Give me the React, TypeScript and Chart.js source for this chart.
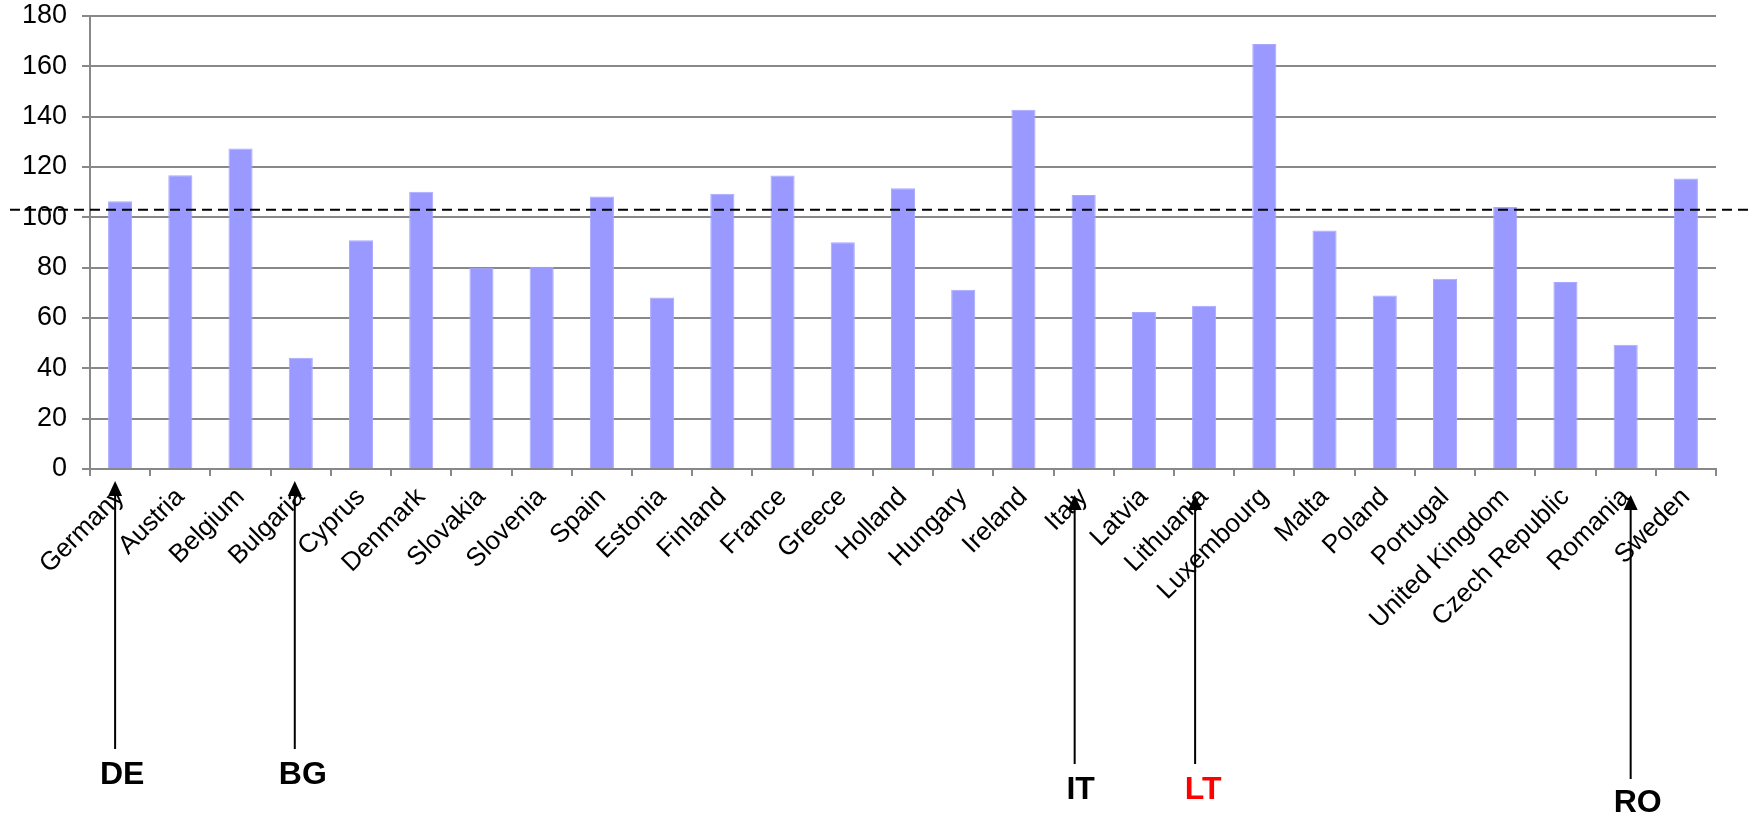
import React, { useEffect, useRef } from "react";
import { Chart, registerables } from "chart.js";

Chart.register(...registerables);

// ---- data ----
const countries = [
  "Germany", "Austria", "Belgium", "Bulgaria", "Cyprus", "Denmark", "Slovakia",
  "Slovenia", "Spain", "Estonia", "Finland", "France", "Greece", "Holland",
  "Hungary", "Ireland", "Italy", "Latvia", "Lithuania", "Luxembourg", "Malta",
  "Poland", "Portugal", "United Kingdom", "Czech Republic", "Romania", "Sweden",
];
const values = [
  106.4, 116.7, 127.4, 44.2, 90.9, 110.2, 80.0, 80.4, 108.3, 68.1, 109.4, 116.6,
  90.1, 111.6, 71.2, 142.7, 108.9, 62.4, 64.9, 168.9, 94.8, 68.9, 75.6, 104.1,
  74.3, 49.4, 115.4,
];
const yTicks = [0, 20, 40, 60, 80, 100, 120, 140, 160, 180];
const referenceValue = 103;
const markerCodes = ["DE", "BG", "IT", "LT", "RO"];
const markerCountries = ["Germany", "Bulgaria", "Italy", "Lithuania", "Romania"];
const markerColors = ["#000000", "#000000", "#000000", "#ff0000", "#000000"];

// ---- layout (pixels, not data) ----
const W = 1754;
const H = 818;
const FONT = "'Liberation Sans', Arial, Helvetica, sans-serif";
const markerLayout: Record<string, { dx: number; tdx: number; tip: number; bottom: number; text: number }> = {
  DE: { dx: -5, tdx: 2, tip: 481, bottom: 749, text: 775 },
  BG: { dx: -6, tdx: 2, tip: 481, bottom: 749, text: 775 },
  IT: { dx: -9, tdx: -3, tip: 495, bottom: 764, text: 790 },
  LT: { dx: -9, tdx: -1, tip: 495, bottom: 764, text: 790 },
  RO: { dx: 5, tdx: 12, tip: 495, bottom: 779, text: 803 },
};

const refLinePlugin = {
  id: "refLine",
  afterDatasetsDraw(chart: any) {
    const y = chart.scales.y.getPixelForValue(referenceValue);
    const ctx = chart.ctx;
    ctx.save();
    ctx.strokeStyle = "#000";
    ctx.lineWidth = 2;
    ctx.setLineDash([10, 6]);
    ctx.beginPath();
    ctx.moveTo(10, y);
    ctx.lineTo(W - 4, y);
    ctx.stroke();
    ctx.restore();
  },
};

const markersPlugin = {
  id: "markers",
  afterDraw(chart: any) {
    const ctx = chart.ctx;
    const xs = chart.scales.x;
    ctx.save();
    markerCodes.forEach((code, i) => {
      const idx = countries.indexOf(markerCountries[i]);
      const lay = markerLayout[code];
      const cx = xs.getPixelForValue(idx);
      const ax = cx + lay.dx;
      const headH = 15;
      const headW = 14;
      ctx.strokeStyle = "#000";
      ctx.fillStyle = "#000";
      ctx.lineWidth = 2;
      ctx.beginPath();
      ctx.moveTo(ax, lay.bottom);
      ctx.lineTo(ax, lay.tip + headH - 1);
      ctx.stroke();
      ctx.beginPath();
      ctx.moveTo(ax, lay.tip);
      ctx.lineTo(ax - headW / 2, lay.tip + headH);
      ctx.lineTo(ax + headW / 2, lay.tip + headH);
      ctx.closePath();
      ctx.fill();
      ctx.font = `bold 32px ${FONT}`;
      ctx.fillStyle = markerColors[i];
      ctx.textAlign = "center";
      ctx.textBaseline = "middle";
      ctx.fillText(code, cx + lay.tdx, lay.text);
    });
    ctx.restore();
  },
};

export default function App() {
  const ref = useRef<HTMLCanvasElement | null>(null);
  useEffect(() => {
    document.body.style.margin = "0";
    if (!ref.current) return;
    const chart = new Chart(ref.current, {
      type: "bar",
      data: {
        labels: countries,
        datasets: [
          {
            data: values,
            backgroundColor: "#9999ff",
            borderColor: "#a8a8ff",
            borderWidth: 1,
            categoryPercentage: 1,
            barPercentage: 0.4,
          },
        ],
      },
      options: {
        responsive: false,
        animation: false,
        devicePixelRatio: 1,
        layout: { padding: { top: 16, right: 38, left: 0, bottom: 0 } },
        plugins: { legend: { display: false }, tooltip: { enabled: false } },
        scales: {
          x: {
            offset: true,
            grid: {
              display: true,
              drawOnChartArea: false,
              drawTicks: true,
              tickLength: 7,
              color: "#888888",
              lineWidth: 2,
              offset: true,
            },
            border: { display: true, color: "#888888", width: 2 },
            ticks: {
              autoSkip: false,
              maxRotation: 45,
              minRotation: 45,
              padding: 6,
              color: "#000",
              font: { family: FONT, size: 26 },
            },
            afterFit: (s: any) => {
              s.height = H - 469;
            },
          },
          y: {
            min: 0,
            max: 180,
            afterBuildTicks: (s: any) => {
              s.ticks = yTicks.map((v) => ({ value: v }));
            },
            ticks: {
              padding: 15,
              color: "#000",
              font: { family: FONT, size: 27 },
            },
            grid: { color: "#888888", lineWidth: 2, tickLength: 8 },
            border: { display: true, color: "#888888", width: 2 },
            afterFit: (s: any) => {
              s.width = 90;
              s.paddingTop = 0;
              s.paddingBottom = 0;
            },
          },
        },
      },
      plugins: [refLinePlugin, markersPlugin],
    });
    return () => chart.destroy();
  }, []);
  return (
    <div style={{ width: W, height: H, background: "#fff" }}>
      <canvas ref={ref} width={W} height={H} style={{ width: W, height: H, display: "block" }} />
    </div>
  );
}
